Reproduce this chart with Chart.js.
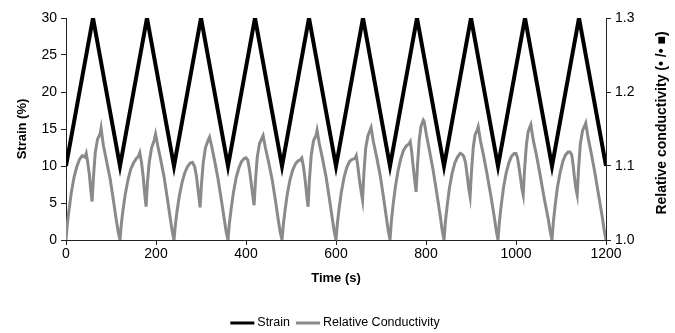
<!DOCTYPE html>
<html>
<head>
<meta charset="utf-8">
<script src="https://cdn.jsdelivr.net/npm/chart.js@4"></script>
<style>
html,body{margin:0;padding:0;background:#fff;}
#wrap{width:675px;height:333px;}
</style>
</head>
<body>
<div id="wrap"><canvas id="c" width="675" height="333"></canvas></div>
<script>
// Strain triangle wave: time (s) and strain (%)
const strainTime = [0,60,120,180,240,300,360,420,480,540,600,660,720,780,840,900,960,1020,1080,1140,1200];
const strainValues = [10,30,10,30,10,30,10,30,10,30,10,30,10,30,10,30,10,30,10,30,10];

// Relative conductivity (time s, value)
const condTime = [
  0,3,7,12,18,24,30,36,42,45,48,52,55,58,61,65,70,76,78,83,90,98,105,112,116,
  120,123,127,132,138,144,150,156,161,164,168,172,175,178,181,185,190,196,199,204,210,218,225,232,236,
  240,243,247,252,258,264,270,276,281,286,290,294,298,301,305,310,316,319,324,330,338,345,352,356,
  360,363,367,372,378,384,390,396,400,404,408,412,415,418,421,425,430,435,438,443,450,458,465,472,476,
  480,483,487,492,498,504,510,516,520,524,528,532,535,538,541,545,550,556,558,563,570,578,585,592,596,
  600,603,607,612,618,624,630,636,642,645,648,652,656,659,662,666,671,676,678,683,690,698,705,712,716,
  720,723,727,732,738,744,750,756,762,765,768,772,775,778,781,785,789,794,796,801,808,816,824,832,836,
  840,843,847,852,858,864,870,876,880,884,888,892,895,898,901,905,909,914,916,921,928,936,944,952,956,
  960,963,967,972,978,984,990,996,1000,1003,1006,1010,1013,1016,1019,1023,1027,1031,1033,1038,1045,1053,1061,1072,1076,
  1080,1083,1087,1092,1098,1104,1110,1116,1120,1124,1127,1130,1133,1136,1139,1143,1148,1153,1155,1160,1167,1175,1183,1192,1196,1200
];
const condValues = [
  1.000,1.022,1.042,1.065,1.085,1.099,1.109,1.114,1.112,1.117,1.106,1.088,1.068,1.052,1.085,1.118,1.136,1.144,1.151,1.128,1.107,1.083,1.055,1.026,1.011,
  1.000,1.022,1.042,1.063,1.082,1.096,1.104,1.110,1.113,1.118,1.104,1.083,1.062,1.045,1.078,1.105,1.124,1.135,1.143,1.127,1.110,1.085,1.057,1.028,1.012,
  1.000,1.020,1.040,1.060,1.078,1.091,1.099,1.104,1.105,1.099,1.086,1.065,1.044,1.075,1.105,1.125,1.135,1.139,1.126,1.108,1.082,1.055,1.027,1.011,
  1.000,1.022,1.042,1.064,1.084,1.097,1.106,1.110,1.111,1.108,1.094,1.075,1.060,1.047,1.080,1.112,1.130,1.137,1.141,1.125,1.106,1.082,1.055,1.026,1.011,
  1.000,1.021,1.041,1.063,1.082,1.095,1.103,1.107,1.108,1.111,1.098,1.078,1.060,1.045,1.082,1.115,1.134,1.142,1.148,1.130,1.110,1.085,1.057,1.028,1.012,
  1.000,1.022,1.043,1.065,1.085,1.098,1.106,1.109,1.110,1.114,1.102,1.082,1.065,1.054,1.090,1.124,1.141,1.149,1.152,1.133,1.113,1.088,1.060,1.030,1.013,
  1.000,1.025,1.048,1.072,1.094,1.110,1.121,1.127,1.130,1.133,1.120,1.097,1.080,1.065,1.100,1.135,1.154,1.162,1.160,1.142,1.120,1.094,1.063,1.031,1.013,
  1.000,1.024,1.046,1.070,1.090,1.104,1.112,1.117,1.116,1.113,1.104,1.085,1.070,1.059,1.092,1.125,1.142,1.149,1.153,1.134,1.114,1.088,1.060,1.030,1.013,
  1.000,1.024,1.046,1.070,1.090,1.104,1.113,1.117,1.117,1.112,1.101,1.084,1.070,1.061,1.095,1.128,1.146,1.153,1.156,1.136,1.116,1.090,1.062,1.027,1.012,
  1.000,1.024,1.047,1.071,1.091,1.106,1.115,1.119,1.119,1.115,1.101,1.084,1.070,1.061,1.096,1.130,1.148,1.155,1.158,1.139,1.118,1.092,1.063,1.030,1.013,1.000
];

const xTicks = [0,200,400,600,800,1000,1200];
const strainTicks = [0,5,10,15,20,25,30];
const condTicks = [1.0,1.1,1.2,1.3];
const rightTitle = 'Relative conductivity (• /• ■)';

const strainPts = strainTime.map((t,i)=>({x:t,y:strainValues[i]}));
const condPts = condTime.map((t,i)=>({x:t,y:condValues[i]}));

const FONT = '"Liberation Sans", Arial, sans-serif';
const axisColor = '#222';

// draws the right axis title (reading upward) and the bottom legend
const extras = {
  id:'extras',
  afterDraw(chart){
    const ctx = chart.ctx, a = chart.chartArea;
    ctx.save();
    ctx.fillStyle = '#000';
    ctx.font = 'bold 14px ' + FONT;
    ctx.textAlign = 'center'; ctx.textBaseline = 'middle';
    ctx.translate(662, (a.top + a.bottom)/2 - 6);
    ctx.rotate(-Math.PI/2);
    ctx.fillText(rightTitle, 0, 0);
    ctx.restore();

    ctx.save();
    ctx.font = '12.5px ' + FONT;
    ctx.textBaseline = 'middle'; ctx.textAlign = 'left';
    const items = chart.data.datasets.map(d=>({text:d.label, color:d.borderColor, w:ctx.measureText(d.label).width}));
    const lineW = 24, gap = 3, sep = 6;
    let total = 0;
    items.forEach((it,i)=>{ total += lineW + gap + it.w + (i < items.length-1 ? sep : 0); });
    let x = 335 - total/2;
    const y = 323;
    items.forEach(it=>{
      ctx.fillStyle = it.color;
      ctx.fillRect(x, y-1.5, lineW, 3);
      x += lineW + gap;
      ctx.fillStyle = '#000';
      ctx.fillText(it.text, x, y);
      x += it.w + sep;
    });
    ctx.restore();
  }
};

new Chart(document.getElementById('c'), {
  type: 'line',
  data: {
    datasets: [
      {label:'Strain', data:strainPts, yAxisID:'y', borderColor:'#000', backgroundColor:'#000', borderWidth:4, pointRadius:0, tension:0, borderJoinStyle:'miter'},
      {label:'Relative Conductivity', data:condPts, yAxisID:'y2', borderColor:'#8a8a8a', backgroundColor:'#8a8a8a', borderWidth:3, pointRadius:0, tension:0}
    ]
  },
  options: {
    responsive:false, animation:false, devicePixelRatio:1,
    layout:{padding:{top:18,left:0,right:0,bottom:43}},
    plugins:{ tooltip:{enabled:false}, legend:{display:false} },
    scales:{
      x:{
        type:'linear', min:0, max:1200,
        afterBuildTicks(s){ s.ticks = xTicks.map(v=>({value:v})); },
        afterFit(s){ s.height = 50; },
        ticks:{font:{family:FONT,size:14}, color:'#000', padding:1, maxRotation:0, callback:v=>String(v)},
        grid:{drawOnChartArea:false, color:axisColor, tickLength:5, tickColor:axisColor},
        border:{color:axisColor, width:1},
        title:{display:true, text:'Time (s)', font:{family:FONT,size:13,weight:'bold'}, color:'#000', padding:{top:4,bottom:4}}
      },
      y:{
        position:'left', min:0, max:30,
        afterBuildTicks(s){ s.ticks = strainTicks.map(v=>({value:v})); },
        afterFit(s){ s.width = 66; },
        ticks:{font:{family:FONT,size:14}, color:'#000', padding:4, callback:v=>String(v)},
        grid:{drawOnChartArea:false, color:axisColor, tickLength:5, tickColor:axisColor},
        border:{color:axisColor, width:1},
        title:{display:true, text:'Strain (%)', font:{family:FONT,size:13,weight:'bold'}, color:'#000', padding:{top:15,bottom:4}}
      },
      y2:{
        position:'right', min:1.0, max:1.3,
        afterBuildTicks(s){ s.ticks = condTicks.map(v=>({value:v})); },
        afterFit(s){ s.width = 69; },
        ticks:{font:{family:FONT,size:14}, color:'#000', padding:4, callback:v=>Number(v).toFixed(1)},
        grid:{drawOnChartArea:false, color:axisColor, tickLength:5, tickColor:axisColor},
        border:{color:axisColor, width:1},
        title:{display:false}
      }
    }
  },
  plugins:[extras]
});
</script>
</body>
</html>
